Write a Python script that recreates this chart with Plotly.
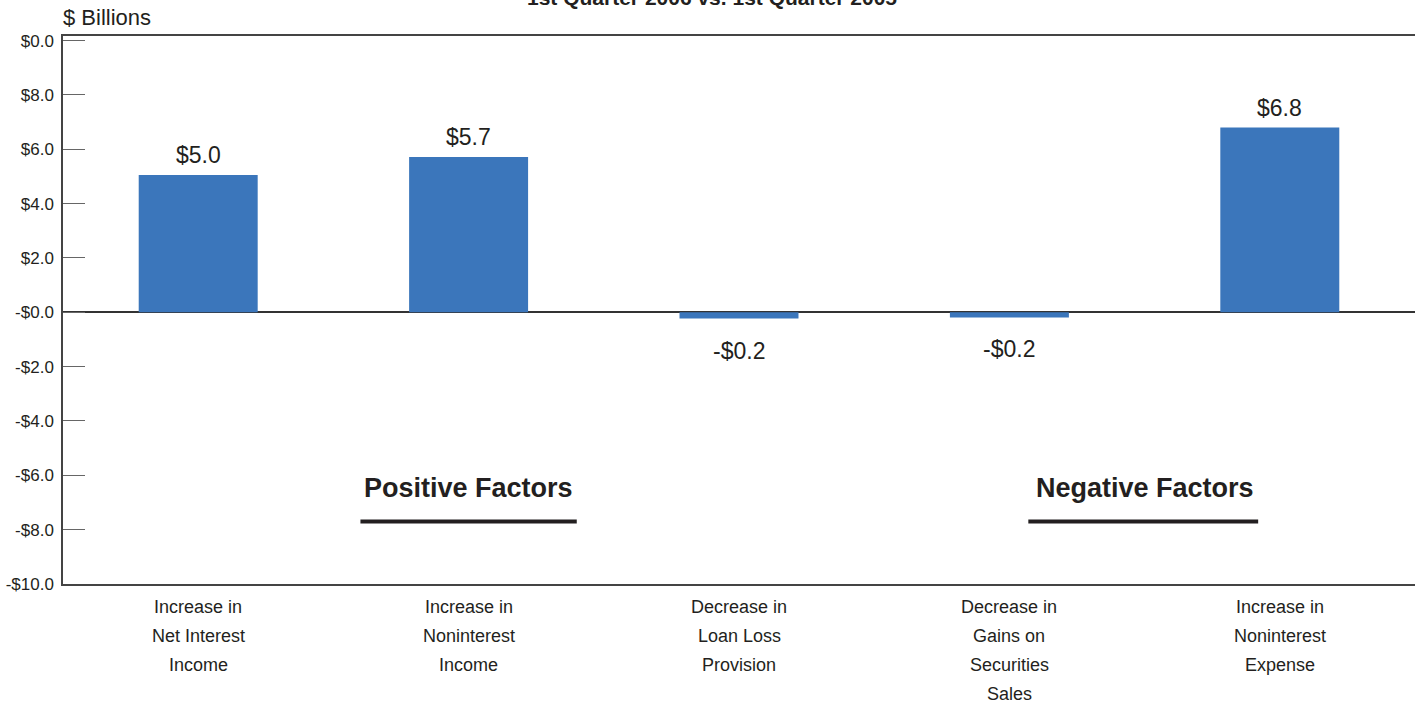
import plotly.graph_objects as go

categories = [
    ["Increase in", "Net Interest", "Income"],
    ["Increase in", "Noninterest", "Income"],
    ["Decrease in", "Loan Loss", "Provision"],
    ["Decrease in", "Gains on", "Securities", "Sales"],
    ["Increase in", "Noninterest", "Expense"],
]
values = [5.05, 5.72, -0.23, -0.19, 6.8]
value_labels = ["$5.0", "$5.7", "-$0.2", "-$0.2", "$6.8"]
tick_vals = [-10, -8, -6, -4, -2, 0, 2, 4, 6, 8, 10]
tick_text = ["-$10.0", "-$8.0", "-$6.0", "-$4.0", "-$2.0", "-$0.0",
             "$2.0", "$4.0", "$6.0", "$8.0", "$0.0"]
title_text = "1st Quarter 2006 vs. 1st Quarter 2005"
y_unit = "$ Billions"
group_labels = ["Positive Factors", "Negative Factors"]
group_centers = [1.0, 3.5]

FONT = "Liberation Sans, Arial, sans-serif"
TXT = "#231f20"
x_idx = list(range(len(categories)))

fig = go.Figure()
fig.add_trace(go.Bar(
    x=x_idx, y=values, width=0.44,
    marker=dict(color="#3B76BB", line=dict(width=0)),
    hoverinfo="skip",
))

ann = []
for i, (v, lab) in enumerate(zip(values, value_labels)):
    ann.append(dict(x=i, y=v, xref="x", yref="y", text=lab, showarrow=False,
                    yanchor="middle", yshift=20 if v >= 0 else -32,
                    font=dict(family=FONT, size=23, color=TXT)))
for i, lines in enumerate(categories):
    for j, line in enumerate(lines):
        ann.append(dict(x=i, y=-10, xref="x", yref="y", text=line, showarrow=False,
                        yanchor="middle", yshift=-(23 + 29 * j),
                        font=dict(family=FONT, size=18, color=TXT)))
for g, cx in zip(group_labels, group_centers):
    ann.append(dict(x=cx, y=-6.45, xref="x", yref="y", text="<b>%s</b>" % g,
                    showarrow=False, yanchor="middle",
                    font=dict(family=FONT, size=27, color=TXT)))
ann.append(dict(x=0, y=1, xref="paper", yref="paper", text=y_unit, showarrow=False,
                xanchor="left", yanchor="bottom", yshift=4, xshift=-2,
                font=dict(family=FONT, size=22, color=TXT)))
ann.append(dict(x=0.48, y=1, xref="paper", yref="paper", text="<b>%s</b>" % title_text,
                showarrow=False, xanchor="center", yanchor="bottom", yshift=25,
                font=dict(family=FONT, size=21, color=TXT)))

shapes = [
    dict(type="line", xref="x", yref="y", x0=0.6, x1=1.4, y0=-7.7, y1=-7.7,
         line=dict(color=TXT, width=4)),
    dict(type="line", xref="x", yref="y", x0=3.07, x1=3.92, y0=-7.7, y1=-7.7,
         line=dict(color=TXT, width=4)),
]

fig.update_layout(
    width=1415, height=705,
    margin=dict(l=63, r=0, t=36, b=121),
    paper_bgcolor="white", plot_bgcolor="white",
    showlegend=False,
    annotations=ann, shapes=shapes,
    xaxis=dict(range=[-0.5, 4.5], showticklabels=False, ticks="",
               showline=True, mirror=True, linecolor="#444", linewidth=1.5,
               showgrid=False, zeroline=False, fixedrange=True),
    yaxis=dict(range=[-10, 10.17], tickvals=tick_vals, ticktext=tick_text,
               ticks="inside", ticklen=22, tickcolor="#666", tickwidth=1,
               showline=True, linecolor="#444", linewidth=1.5,
               showgrid=False, zeroline=True, zerolinecolor="#333", zerolinewidth=2,
               tickfont=dict(family=FONT, size=17, color=TXT),
               ticklabelstandoff=4, fixedrange=True),
)

fig.write_html("out.html", config={"displayModeBar": False},
               post_script="document.body.style.margin='0';document.body.style.overflow='hidden';")
